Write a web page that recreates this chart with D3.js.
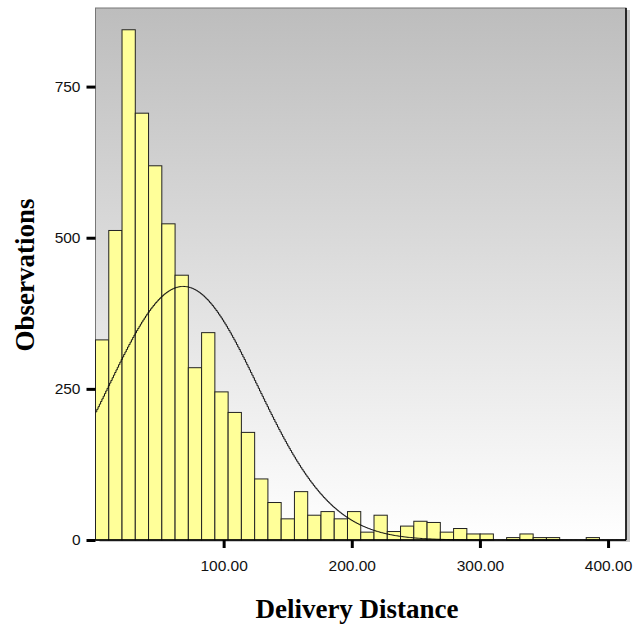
<!DOCTYPE html>
<html>
<head>
<meta charset="utf-8">
<script src="https://cdn.jsdelivr.net/npm/d3@7"></script>
<style>
  body { margin: 0; background: #fff; }
  text { font-family: "Liberation Sans", Arial, sans-serif; }
</style>
</head>
<body>
<div id="chart"></div>
<script>
// histogram counts, one per bin of equal width starting at 0
var binWidth = 10.35;
var counts = [331, 512, 844, 706, 619, 523, 438, 285, 343, 245,
              211, 178, 101, 62, 35, 80, 41, 47, 35, 47,
              13, 41, 14, 23, 31, 29, 13, 19, 10, 10,
              0, 4, 10, 4, 4, 0, 0, 4, 0, 0];

// fitted normal curve parameters
var curveMean = 68;
var curveSd = 58.2;

var xTicks = [100, 200, 300, 400];
var yTicks = [0, 250, 500, 750];

var svgWidth = 638;
var svgHeight = 631;

var margin = { top: 8, right: 12, bottom: 91, left: 95.5 };
var width = svgWidth - margin.left - margin.right;
var height = svgHeight - margin.top - margin.bottom;

var svg = d3.select("#chart")
  .append("svg")
  .attr("width", svgWidth)
  .attr("height", svgHeight);

var defs = svg.append("defs");
var grad = defs.append("linearGradient")
  .attr("id", "bg")
  .attr("x1", 0).attr("y1", 0)
  .attr("x2", 0).attr("y2", 1);
grad.append("stop").attr("offset", "0%").attr("stop-color", "#bdbdbd");
grad.append("stop").attr("offset", "100%").attr("stop-color", "#ffffff");

var chartGroup = svg.append("g")
  .attr("transform", `translate(${margin.left}, ${margin.top})`);

var xScale = d3.scaleLinear()
  .domain([0, 414])
  .range([0, width]);

var yScale = d3.scaleLinear()
  .domain([0, 880])
  .range([height, 0]);

// shadow behind the plot frame
chartGroup.append("rect")
  .attr("x", 4)
  .attr("y", 2)
  .attr("width", width)
  .attr("height", height)
  .attr("fill", "#c8c8c8");

// plot background
chartGroup.append("rect")
  .attr("x", 0)
  .attr("y", 0)
  .attr("width", width)
  .attr("height", height)
  .attr("fill", "url(#bg)")
  .attr("stroke", "#777")
  .attr("stroke-width", 1);

// bars
var bins = counts.map(function(c, i) {
  return { x0: i * binWidth, x1: (i + 1) * binWidth, count: c };
});

chartGroup.selectAll("rect.bar")
  .data(bins.filter(d => d.count > 0))
  .enter()
  .append("rect")
  .attr("class", "bar")
  .attr("x", d => xScale(d.x0))
  .attr("y", d => yScale(d.count))
  .attr("width", d => xScale(d.x1) - xScale(d.x0))
  .attr("height", d => height - yScale(d.count))
  .attr("fill", "#ffff99")
  .attr("stroke", "#222")
  .attr("stroke-width", 1);

// normal curve
var total = d3.sum(counts);
var normalPts = d3.range(0, 414.5, 1).map(function(v) {
  var z = (v - curveMean) / curveSd;
  return [v, total * binWidth * Math.exp(-0.5 * z * z) / (curveSd * Math.sqrt(2 * Math.PI))];
});

chartGroup.append("path")
  .datum(normalPts)
  .attr("fill", "none")
  .attr("stroke", "#111")
  .attr("stroke-width", 1)
  .attr("d", d3.line()
    .x(d => xScale(d[0]))
    .y(d => yScale(d[1]))
    .curve(d3.curveStepAfter));

// frame edges: right and bottom in black
chartGroup.append("line")
  .attr("x1", width).attr("x2", width)
  .attr("y1", 0).attr("y2", height)
  .attr("stroke", "#000").attr("stroke-width", 1.5);
chartGroup.append("line")
  .attr("x1", 0).attr("x2", width)
  .attr("y1", height).attr("y2", height)
  .attr("stroke", "#000").attr("stroke-width", 1.5);

// axes
var bottomAxis = d3.axisBottom(xScale)
  .tickValues(xTicks)
  .tickFormat(d3.format(".2f"))
  .tickSize(8)
  .tickPadding(12);

var leftAxis = d3.axisLeft(yScale)
  .tickValues(yTicks)
  .tickSize(9)
  .tickPadding(6);

var xAxis = chartGroup.append("g")
  .attr("transform", `translate(0, ${height})`)
  .call(bottomAxis);

var yAxis = chartGroup.append("g")
  .call(leftAxis);

[xAxis, yAxis].forEach(function(ax) {
  ax.select(".domain").remove();
  ax.selectAll(".tick line")
    .attr("stroke", "#000")
    .attr("stroke-width", 3);
  ax.selectAll(".tick text")
    .attr("fill", "#111")
    .style("font-size", "15.5px")
    .style("font-family", "'Liberation Sans', Arial, sans-serif");
});

// axis titles
svg.append("text")
  .attr("transform", "rotate(-90)")
  .attr("x", -275)
  .attr("y", 34)
  .attr("text-anchor", "middle")
  .style("font-family", "'Liberation Serif', 'Times New Roman', serif")
  .style("font-weight", "bold")
  .style("font-size", "27px")
  .text("Observations");

svg.append("text")
  .attr("x", 357)
  .attr("y", 618)
  .attr("text-anchor", "middle")
  .style("font-family", "'Liberation Serif', 'Times New Roman', serif")
  .style("font-weight", "bold")
  .style("font-size", "27px")
  .text("Delivery Distance");
</script>
</body>
</html>
